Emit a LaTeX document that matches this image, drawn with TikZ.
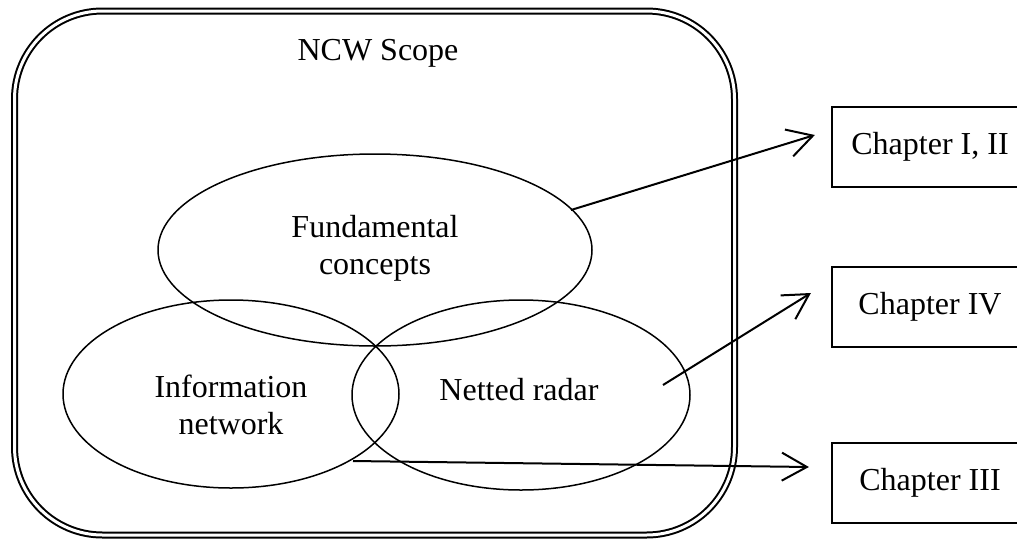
\documentclass[tikz,border=0pt]{standalone}
\usepackage{fontspec}
\setmainfont{Liberation Serif}
\usetikzlibrary{shapes.geometric,arrows.meta,calc}
\begin{document}
\begin{tikzpicture}[x=0.5pt,y=-0.5pt,
  txt/.style={font=\fontsize{16}{18.5}\selectfont, align=center, inner sep=0pt},
  oval/.style={draw, ellipse, line width=0.75pt, inner sep=0pt},
  chapbox/.style={draw, line width=1.1pt, minimum width=98pt, minimum height=40pt,
    inner sep=0pt, font=\fontsize{16}{18.5}\selectfont},
  link/.style={line width=1pt, -{Straight Barb[length=12.5pt,width=14pt,line width=1pt]}}]
\useasboundingbox (0,0) rectangle (1017,542);
\clip (0,0) rectangle (1017,542);

% scope frame with double rounded border
\draw[line width=1pt, double, double distance=1.5pt, rounded corners=44pt]
  (14.5,11) rectangle (734.5,535);
\node[txt, anchor=base] (scope) at (378,60) {NCW Scope};

% overlapping topic ellipses
\node[oval, minimum width=217pt, minimum height=96pt] (fund) at (375,250) {};
\node[oval, minimum width=168pt, minimum height=94pt] (info) at (231,394) {};
\node[oval, minimum width=169pt, minimum height=95pt] (radar) at (521,395) {};

\node[txt] (fundtext) at (375,248) {Fundamental\\concepts};
\node[txt] (infotext) at (231,405) {Information\\network};
\node[txt, anchor=base] (radartext) at (519,400) {Netted radar};

% chapter boxes (their right sides run past the page edge)
\node[chapbox] (ch1) at (930,147) {Chapter I, II};
\node[chapbox] (ch2) at (930,307) {Chapter IV};
\node[chapbox] (ch3) at (930,483) {Chapter III};

% links from topics to chapters
\draw[link] ($(fund.center)+(196,-40)$) -- ($(ch1.west)+(-16,-12)$);
\draw[link] ($(radar.center)+(142,-10)$) -- ($(ch2.west)+(-20,-14)$);
\draw[link] ($(info.center)+(122,67)$) -- ($(ch3.west)+(-22,-16)$);
\end{tikzpicture}
\end{document}
